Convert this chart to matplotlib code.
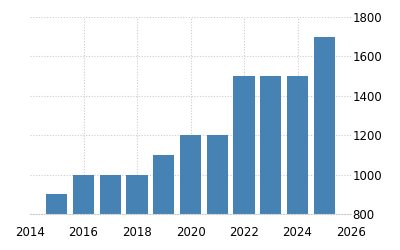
import matplotlib
matplotlib.use("Agg")
import matplotlib.pyplot as plt

years = [2015, 2016, 2017, 2018, 2019, 2020, 2021, 2022, 2023, 2024, 2025]
values = [900, 1000, 1000, 1000, 1100, 1200, 1200, 1500, 1500, 1500, 1700]
xticks = [2014, 2016, 2018, 2020, 2022, 2024, 2026]
yticks = [800, 1000, 1200, 1400, 1600, 1800]

fig = plt.figure(figsize=(4, 2.5), dpi=100)
ax = fig.add_axes([0.075, 0.144, 0.8025, 0.788])
ax.bar(years, [v - 800 for v in values], bottom=800, width=0.8, color="#4682B4", zorder=2)
ax.set_xlim(2014, 2026)
ax.set_ylim(800, 1800)
ax.set_xticks(xticks)
ax.set_yticks(yticks)
ax.yaxis.tick_right()
ax.grid(True, color="#cccccc", linestyle=(0, (1, 1.5)), linewidth=0.8, zorder=0)
ax.xaxis.get_gridlines()[0].set_visible(False)
for s in ["top", "left", "right"]:
    ax.spines[s].set_visible(False)
ax.spines["bottom"].set_color("#cccccc")
ax.spines["bottom"].set_linestyle((0, (1, 1.5)))
ax.tick_params(axis="both", length=0, labelsize=8.5, colors="#000000")
ax.tick_params(axis="y", pad=1)
ax.tick_params(axis="x", pad=9)
fig.savefig("out.png", dpi=100)
